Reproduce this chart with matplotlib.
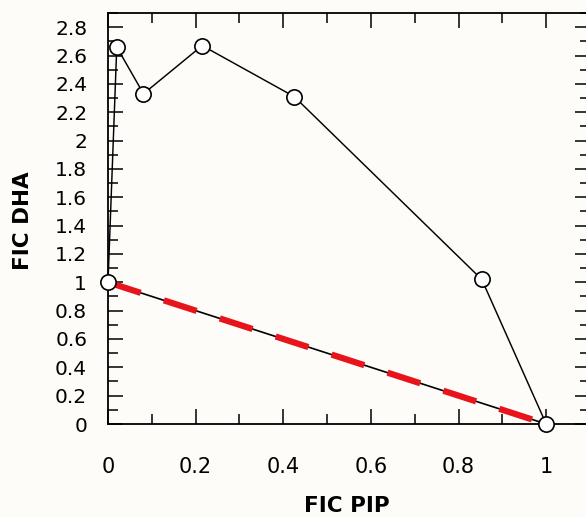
import matplotlib
matplotlib.use("Agg")
import matplotlib.pyplot as plt
from matplotlib.ticker import MultipleLocator, FuncFormatter

# Data
fic_pip = [0.0, 0.02, 0.081, 0.215, 0.425, 0.853, 1.0]
fic_dha = [1.0, 2.66, 2.33, 2.67, 2.31, 1.02, 0.0]
additive_x = [0.0, 1.0]
additive_y = [1.0, 0.0]

bg = "#fdfcf9"
fig = plt.figure(figsize=(5.86, 5.17), dpi=100, facecolor=bg)
W, H = 586, 517
left, right, top, bottom = 108, 590, 13, 424
ax = fig.add_axes([left / W, 1 - bottom / H, (right - left) / W, (bottom - top) / H])
ax.set_facecolor(bg)

# additive line: thin black + red dashes
ax.plot(additive_x, additive_y, color="black", lw=1.2, zorder=2)
ax.plot(additive_x, additive_y, color="#e8141b", lw=4.5, dashes=(5.5, 3.9),
        solid_capstyle="butt", dash_capstyle="butt", zorder=3)

# isobologram series
ax.plot(fic_pip, fic_dha, color="black", lw=1.05, marker="o", ms=11,
        mfc="white", mec="black", mew=1.2, zorder=4, clip_on=False)

ax.set_xlim(0, 1.1)
ax.set_ylim(0, 2.9)

ax.xaxis.set_major_locator(MultipleLocator(0.2))
ax.xaxis.set_minor_locator(MultipleLocator(0.1))
ax.yaxis.set_major_locator(MultipleLocator(0.2))
ax.yaxis.set_minor_locator(MultipleLocator(0.1))

def fmt(v, pos):
    s = f"{v:.1f}"
    if s.endswith(".0"):
        s = s[:-2]
    return s

ax.xaxis.set_major_formatter(FuncFormatter(fmt))
ax.yaxis.set_major_formatter(FuncFormatter(fmt))

ax.tick_params(which="both", direction="in", top=True, right=True, width=1.1, color="black")
ax.tick_params(which="major", length=11)
ax.tick_params(which="minor", length=7.5)
ax.tick_params(axis="y", which="major", labelsize=14.5, pad=15)
ax.tick_params(axis="x", which="major", labelsize=15, pad=24)

for sp in ax.spines.values():
    sp.set_linewidth(1.3)

ax.set_xlabel("FIC PIP", fontsize=15.5, fontweight="bold", va="center")
ax.set_ylabel("FIC DHA", fontsize=15.5, fontweight="bold", va="center")
ax.xaxis.set_label_coords((347 - left) / (right - left), (bottom - 506) / (bottom - top))
ax.yaxis.set_label_coords((23 - left) / (right - left), (bottom - 221) / (bottom - top))

fig.savefig("out.png", dpi=100, facecolor=bg)
